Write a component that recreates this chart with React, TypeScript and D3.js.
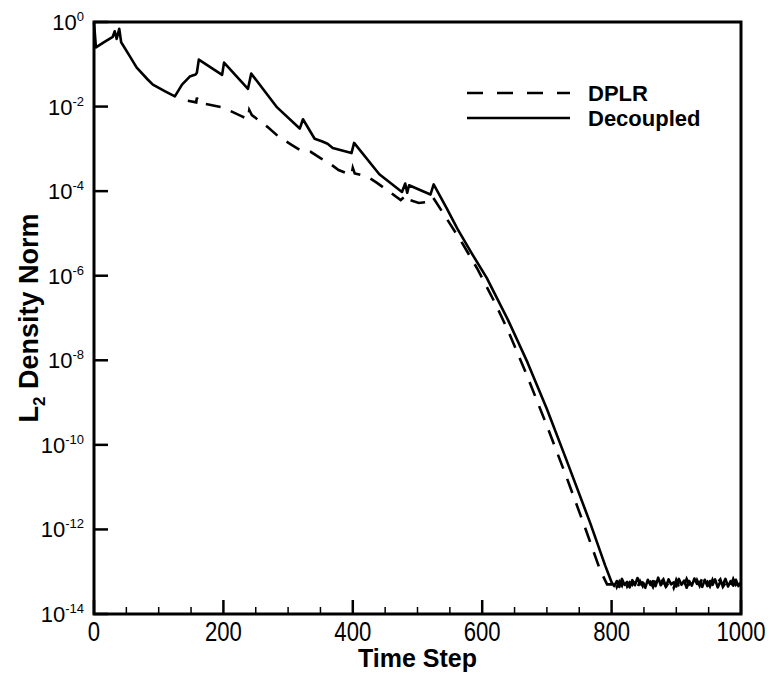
import React, { useEffect, useRef } from 'react';
import * as d3 from 'd3';

// time steps and log10 of the L2 density norm
const decoupledSteps = [0, 3, 15, 29, 32, 35, 39, 42, 55, 66, 83, 91, 110, 125, 136, 148, 157, 159, 162, 198, 201, 238, 243, 283, 318, 323, 341, 352, 361, 369, 398, 402, 441, 476, 481, 484, 487, 520, 525, 545, 562, 585, 607, 640, 670, 700, 730, 767, 790, 800];
const decoupledLog = [-0.02, -0.6, -0.48, -0.35, -0.22, -0.4, -0.16, -0.48, -0.8, -1.08, -1.36, -1.48, -1.64, -1.76, -1.48, -1.29, -1.24, -1.2, -0.89, -1.25, -0.96, -1.58, -1.22, -2.02, -2.52, -2.3, -2.76, -2.82, -2.88, -2.98, -3.1, -2.86, -3.6, -4.02, -3.82, -4.04, -3.86, -4.08, -3.84, -4.4, -4.9, -5.5, -6.05, -7.05, -8.05, -9.15, -10.35, -11.85, -12.85, -13.25];

const dplrSteps = [145, 158, 159, 161, 199, 227, 238, 240, 244, 268, 286, 306, 322, 335, 350, 363, 378, 398, 400, 403, 423, 438, 457, 474, 483, 486, 502, 520, 524, 543, 570, 593, 620, 640, 669, 700, 730, 760, 782, 793];
const dplrLog = [-1.86, -1.9, -1.79, -1.9, -2.02, -2.22, -2.3, -2.08, -2.2, -2.48, -2.72, -2.91, -3.06, -3.07, -3.22, -3.33, -3.5, -3.62, -3.45, -3.58, -3.66, -3.81, -4.02, -4.21, -4.09, -4.2, -4.28, -4.25, -4.15, -4.6, -5.25, -5.85, -6.65, -7.3, -8.35, -9.55, -10.75, -12.0, -12.95, -13.3];

// noisy floor after convergence, every 4 steps from 800 to 1000
const floorSteps = d3.range(800, 1001, 4);
const decoupledFloor = [-13.2, -13.34, -13.22, -13.36, -13.17, -13.31, -13.24, -13.37, -13.2, -13.32, -13.15, -13.3, -13.25, -13.38, -13.19, -13.31, -13.22, -13.34, -13.14, -13.32, -13.23, -13.36, -13.18, -13.3, -13.25, -13.35, -13.17, -13.31, -13.21, -13.38, -13.22, -13.33, -13.16, -13.29, -13.24, -13.36, -13.19, -13.34, -13.22, -13.31, -13.18, -13.37, -13.24, -13.3, -13.17, -13.35, -13.22, -13.33, -13.19, -13.34, -13.25];
const dplrFloor = [-13.3, -13.18, -13.36, -13.23, -13.33, -13.16, -13.35, -13.25, -13.31, -13.19, -13.37, -13.22, -13.34, -13.17, -13.3, -13.24, -13.36, -13.2, -13.33, -13.25, -13.18, -13.35, -13.27, -13.21, -13.38, -13.19, -13.31, -13.23, -13.34, -13.17, -13.3, -13.25, -13.36, -13.2, -13.33, -13.15, -13.31, -13.24, -13.35, -13.19, -13.33, -13.25, -13.18, -13.36, -13.27, -13.21, -13.34, -13.17, -13.31, -13.23, -13.3];

const xTicks = [0, 200, 400, 600, 800, 1000];
const xMinor = [50, 100, 150, 250, 300, 350, 450, 500, 550, 650, 700, 750, 850, 900, 950];
const yExponents = [0, -2, -4, -6, -8, -10, -12, -14];

const legendNames = ['DPLR', 'Decoupled'];

const W = 769, H = 677;
const margin = { top: 22, right: 28, bottom: 63, left: 94 };

export default function App() {
  const ref = useRef<SVGSVGElement>(null);

  useEffect(() => {
    const svg = d3.select(ref.current);
    svg.selectAll('*').remove();
    const w = W - margin.left - margin.right;
    const h = H - margin.top - margin.bottom;
    const g = svg.append('g').attr('transform', `translate(${margin.left},${margin.top})`);

    const x = d3.scaleLinear().domain([0, 1000]).range([0, w]);
    const y = d3.scaleLog().domain([1e-14, 1]).range([h, 0]);

    const line = d3.line<[number, number]>()
      .x(d => x(d[0]))
      .y(d => y(Math.pow(10, d[1])));

    const dplr: [number, number][] = dplrSteps.map((s, i) => [s, dplrLog[i]]);
    floorSteps.forEach((s, i) => { if (s > 793) dplr.push([s, dplrFloor[i]]); });
    const dec: [number, number][] = decoupledSteps.map((s, i) => [s, decoupledLog[i]]);
    floorSteps.forEach((s, i) => { if (s > 800) dec.push([s, decoupledFloor[i]]); });

    const font = 'Liberation Sans, Arial, Helvetica, sans-serif';

    g.append('path').datum(dplr).attr('d', line).attr('fill', 'none')
      .attr('stroke', '#000').attr('stroke-width', 2.6).attr('stroke-dasharray', '15,11');
    g.append('path').datum(dec).attr('d', line).attr('fill', 'none')
      .attr('stroke', '#000').attr('stroke-width', 2.6).attr('stroke-linejoin', 'round');

    // ticks, inward on the left and bottom only
    g.selectAll('.ymaj').data(yExponents).join('line').attr('class', 'ymaj')
      .attr('x1', 0).attr('x2', 14)
      .attr('y1', d => y(Math.pow(10, d))).attr('y2', d => y(Math.pow(10, d)))
      .attr('stroke', '#000').attr('stroke-width', 2.5);
    g.selectAll('.xmaj').data(xTicks).join('line').attr('class', 'xmaj')
      .attr('x1', d => x(d)).attr('x2', d => x(d))
      .attr('y1', h).attr('y2', h - 14)
      .attr('stroke', '#000').attr('stroke-width', 2.5);
    g.selectAll('.xmin').data(xMinor).join('line').attr('class', 'xmin')
      .attr('x1', d => x(d)).attr('x2', d => x(d))
      .attr('y1', h).attr('y2', h - 7)
      .attr('stroke', '#000').attr('stroke-width', 1.5);

    g.append('rect').attr('x', 0).attr('y', 0).attr('width', w).attr('height', h)
      .attr('fill', 'none').attr('stroke', '#000').attr('stroke-width', 3);

    // tick labels
    const yl = g.selectAll('.ylab').data(yExponents).join('text').attr('class', 'ylab')
      .attr('x', -10).attr('y', d => y(Math.pow(10, d)) + 8)
      .attr('text-anchor', 'end').attr('font-family', font).attr('font-size', 22);
    yl.append('tspan').text('10');
    yl.append('tspan').attr('dy', -9).attr('font-size', 13).text(d => `${d}`);

    g.selectAll('.xlab').data(xTicks).join('text').attr('class', 'xlab')
      .attr('transform', d => `translate(${x(d)},${h + 27}) scale(0.82,1)`)
      .attr('text-anchor', 'middle').attr('font-family', font).attr('font-size', 27)
      .text(d => d);

    // axis titles
    g.append('text').attr('x', w / 2).attr('y', h + 53)
      .attr('text-anchor', 'middle').attr('font-family', font).attr('font-size', 25)
      .attr('font-weight', 'bold').text('Time Step');

    const yt = svg.append('text')
      .attr('transform', `translate(38,${margin.top + h / 2}) rotate(-90)`)
      .attr('text-anchor', 'middle').attr('font-family', font).attr('font-size', 27)
      .attr('font-weight', 'bold');
    yt.append('tspan').text('L');
    yt.append('tspan').attr('dy', 7).attr('font-size', 17).text('2');
    yt.append('tspan').attr('dy', -7).text(' Density Norm');

    // legend
    const lg = svg.append('g');
    legendNames.forEach((name, i) => {
      const ly = 93 + i * 25;
      lg.append('line').attr('x1', 467).attr('x2', 570).attr('y1', ly).attr('y2', ly)
        .attr('stroke', '#000').attr('stroke-width', 2.6)
        .attr('stroke-dasharray', i === 0 ? '16,14' : null);
      lg.append('text').attr('x', 588).attr('y', ly + 8)
        .attr('font-family', font).attr('font-size', 22).attr('font-weight', 'bold')
        .text(name);
    });
  }, []);

  return (
    <svg ref={ref} width={W} height={H}
      style={{ position: 'absolute', left: 0, top: 0, background: '#fff' }} />
  );
}
